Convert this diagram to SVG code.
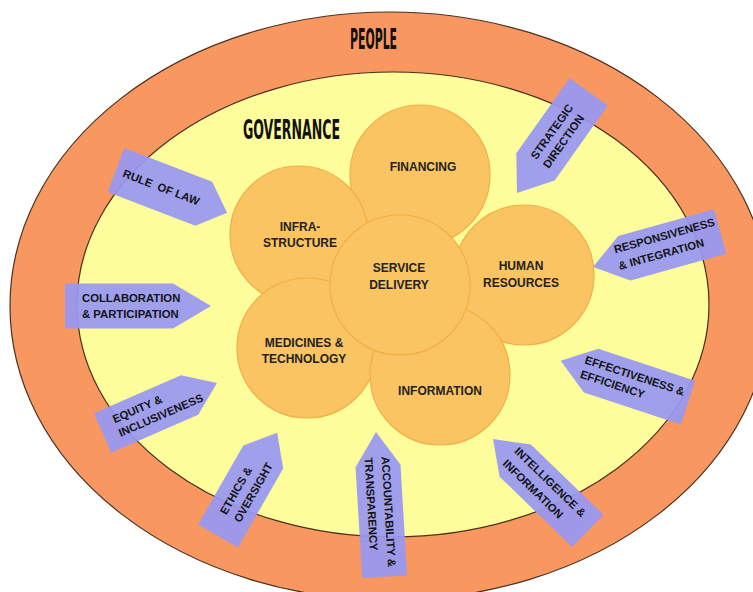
<svg xmlns="http://www.w3.org/2000/svg" width="753" height="592" viewBox="0 0 753 592">
  <style>
    .ring-outer { fill: #F8975F; stroke: #4a3020; stroke-width: 1.2; }
    .ring-inner { fill: #FDFD9C; stroke: #4a3020; stroke-width: 1.2; }
    .block { fill: #FAC462; stroke: #F2AE45; stroke-width: 1.2; }
    .block-label { font-family: "Liberation Sans", Arial, sans-serif; font-weight: bold; font-size: 12px; fill: #222; text-anchor: middle; }
    .arrow { fill: #9898F2; fill-opacity: 0.93; }
    .arrow-label { font-family: "Liberation Sans", Arial, sans-serif; font-weight: bold; font-size: 11.3px; fill: #141414; }
    .title { font-family: "Liberation Sans Narrow", "DejaVu Sans Condensed", "Liberation Sans", sans-serif; font-weight: bold; font-stretch: condensed; fill: #111; }
  </style>

  <!-- outer layer: people -->
  <g id="people">
    <ellipse class="ring-outer" cx="390" cy="306" rx="380" ry="294"/>
    <text class="title" x="350" y="49" font-size="28" textLength="47" lengthAdjust="spacingAndGlyphs">PEOPLE</text>
  </g>

  <!-- middle layer: governance -->
  <g id="governance">
    <ellipse class="ring-inner" cx="393" cy="304.5" rx="316" ry="232.5"/>
    <text class="title" x="243" y="139" font-size="27" textLength="97" lengthAdjust="spacingAndGlyphs">GOVERNANCE</text>
  </g>

  <!-- health system building blocks -->
  <g id="financing">
    <circle class="block" cx="420" cy="175" r="70"/>
    <text class="block-label" x="423" y="171">FINANCING</text>
  </g>
  <g id="infrastructure">
    <circle class="block" cx="299" cy="235" r="69"/>
    <text class="block-label" x="300" y="231">INFRA-</text>
    <text class="block-label" x="300" y="247">STRUCTURE</text>
  </g>
  <g id="human-resources">
    <circle class="block" cx="524" cy="275" r="70"/>
    <text class="block-label" x="521" y="270">HUMAN</text>
    <text class="block-label" x="521" y="287">RESOURCES</text>
  </g>
  <g id="medicines-technology">
    <circle class="block" cx="307" cy="348" r="70"/>
    <text class="block-label" x="304" y="347">MEDICINES &amp;</text>
    <text class="block-label" x="304" y="363">TECHNOLOGY</text>
  </g>
  <g id="information">
    <circle class="block" cx="440" cy="375" r="70"/>
    <text class="block-label" x="440" y="395">INFORMATION</text>
  </g>
  <g id="service-delivery">
    <circle class="block" cx="400" cy="285" r="70"/>
    <text class="block-label" x="399" y="272">SERVICE</text>
    <text class="block-label" x="399" y="289">DELIVERY</text>
  </g>

  <!-- governance principles, pointing at the building blocks -->
  <g id="principles">
    <g id="rule-of-law" transform="translate(116,170) rotate(21)">
      <polygon class="arrow" points="0,-23.5 94,-23.5 119,0 94,23.5 0,23.5"/>
      <text class="arrow-label" x="8" y="4" xml:space="preserve">RULE  OF LAW</text>
    </g>
    <g id="collaboration" transform="translate(65,306)">
      <polygon class="arrow" points="0,-22.5 108,-22.5 146,0 108,22.5 0,22.5"/>
      <text class="arrow-label" x="17" y="-4">COLLABORATION</text>
      <text class="arrow-label" x="17" y="12">&amp; PARTICIPATION</text>
    </g>
    <g id="equity" transform="translate(102.5,433) rotate(-23.6)">
      <polygon class="arrow" points="0,-21.5 95,-21.5 125,0 95,21.5 0,21.5"/>
      <text class="arrow-label" x="15" y="-4">EQUITY &amp;</text>
      <text class="arrow-label" x="15" y="11">INCLUSIVENESS</text>
    </g>
    <g id="ethics" transform="translate(218,536) rotate(-60.2)">
      <polygon class="arrow" points="0,-23 91,-23 119,0 91,23 0,23"/>
      <text class="arrow-label" x="22" y="-3">ETHICS &amp;</text>
      <text class="arrow-label" x="22" y="13">OVERSIGHT</text>
    </g>
    <g id="accountability" transform="translate(376,432) rotate(86.6)">
      <polygon class="arrow" points="0,0 34,-22.5 145,-22.5 145,22.5 34,22.5"/>
      <text class="arrow-label" x="25" y="-4">ACCOUNTABILITY &amp;</text>
      <text class="arrow-label" x="25" y="13">TRANSPARENCY</text>
    </g>
    <g id="intelligence" transform="translate(493,439) rotate(44.1)">
      <polygon class="arrow" points="0,0 31,-22.5 132,-22.5 132,22.5 31,22.5"/>
      <text class="arrow-label" x="24" y="-5">INTELLIGENCE &amp;</text>
      <text class="arrow-label" x="24" y="12">INFORMATION</text>
    </g>
    <g id="effectiveness" transform="translate(560.7,360.7) rotate(18.2)">
      <polygon class="arrow" points="0,0 32,-23 134,-23 134,23 32,23"/>
      <text class="arrow-label" x="23" y="-5">EFFECTIVENESS &amp;</text>
      <text class="arrow-label" x="23" y="10">EFFICIENCY</text>
    </g>
    <g id="responsiveness" transform="translate(593,267) rotate(-15.6)">
      <polygon class="arrow" points="0,0 32.6,-23 132,-23 132,23 32.6,23"/>
      <text class="arrow-label" x="25" y="-7">RESPONSIVENESS</text>
      <text class="arrow-label" x="25" y="10">&amp; INTEGRATION</text>
    </g>
    <g id="strategic-direction" transform="translate(517,193) rotate(-54.7)">
      <polygon class="arrow" points="0,0 32,-23.5 124,-23.5 124,23.5 32,23.5"/>
      <text class="arrow-label" x="38" y="-3">STRATEGIC</text>
      <text class="arrow-label" x="38" y="12">DIRECTION</text>
    </g>
  </g>
</svg>
